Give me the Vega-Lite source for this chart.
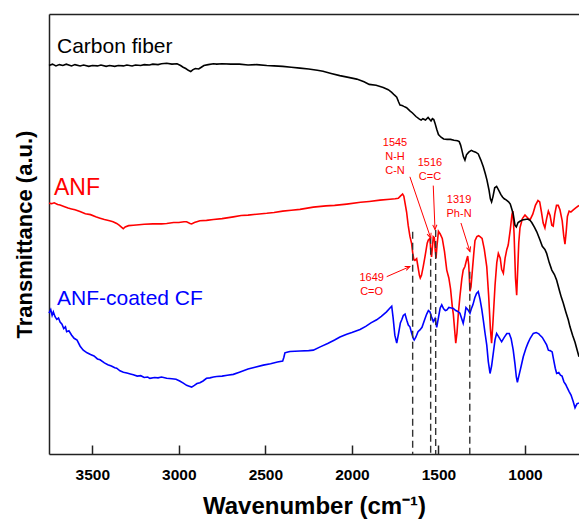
{
  "$schema": "https://vega.github.io/schema/vega-lite/v6.json",
  "width": 530,
  "height": 440,
  "autosize": "none",
  "padding": {"left": 49, "top": 14, "right": 0, "bottom": 68},
  "background": "white",
  "config": {
    "view": {"stroke": null},
    "font": "Liberation Sans",
    "axis": {"grid": false, "domainColor": "#222", "domainWidth": 1.5, "tickColor": "#222", "tickWidth": 1.5, "labelColor": "#000", "titleColor": "#000"}
  },
  "datasets": {
    "cf": [
      {"w":3750,"t":88.3},{"w":3730,"t":88.6},{"w":3710,"t":88.2},{"w":3690,"t":88.5},{"w":3670,"t":88.3},{"w":3650,"t":88.6},{"w":3620,"t":88.2},{"w":3600,"t":88.5},{"w":3570,"t":88.2},{"w":3550,"t":88.4},{"w":3520,"t":88.1},{"w":3500,"t":88.3},{"w":3470,"t":88.2},{"w":3450,"t":88.4},{"w":3420,"t":88.1},{"w":3400,"t":88.3},{"w":3370,"t":88.1},{"w":3350,"t":88.3},{"w":3320,"t":88.2},{"w":3300,"t":88.4},{"w":3270,"t":88.2},{"w":3250,"t":88.4},{"w":3220,"t":88.3},{"w":3200,"t":88.5},{"w":3170,"t":88.4},{"w":3150,"t":88.6},{"w":3120,"t":88.5},{"w":3100,"t":88.7},{"w":3070,"t":88.8},{"w":3040,"t":88.6},{"w":3010,"t":88.7},{"w":2990,"t":88.3},{"w":2975,"t":87.9},{"w":2960,"t":87.6},{"w":2945,"t":87.2},{"w":2931,"t":86.9},{"w":2920,"t":87.3},{"w":2905,"t":87.6},{"w":2885,"t":87.5},{"w":2870,"t":87.9},{"w":2855,"t":88.3},{"w":2830,"t":88.5},{"w":2800,"t":88.7},{"w":2781,"t":88.6},{"w":2750,"t":88.7},{"w":2700,"t":88.6},{"w":2650,"t":88.6},{"w":2600,"t":88.4},{"w":2550,"t":88.5},{"w":2492,"t":88.3},{"w":2450,"t":88.2},{"w":2400,"t":88.1},{"w":2350,"t":87.9},{"w":2300,"t":87.7},{"w":2250,"t":87.5},{"w":2200,"t":87.2},{"w":2167,"t":87.0},{"w":2120,"t":86.5},{"w":2070,"t":86.0},{"w":2020,"t":85.6},{"w":1972,"t":85.2},{"w":1930,"t":84.6},{"w":1900,"t":84.0},{"w":1860,"t":83.8},{"w":1819,"t":83.3},{"w":1790,"t":82.8},{"w":1770,"t":82.2},{"w":1755,"t":81.6},{"w":1741,"t":81.1},{"w":1730,"t":80.0},{"w":1722,"t":79.3},{"w":1710,"t":79.2},{"w":1700,"t":79.0},{"w":1684,"t":78.7},{"w":1665,"t":78.0},{"w":1650,"t":77.5},{"w":1630,"t":76.7},{"w":1610,"t":76.1},{"w":1600,"t":75.9},{"w":1590,"t":76.2},{"w":1575,"t":75.9},{"w":1560,"t":76.5},{"w":1550,"t":76.0},{"w":1543,"t":75.7},{"w":1535,"t":76.2},{"w":1527,"t":76.0},{"w":1520,"t":75.2},{"w":1510,"t":73.8},{"w":1500,"t":72.6},{"w":1485,"t":72.0},{"w":1470,"t":71.6},{"w":1450,"t":71.5},{"w":1430,"t":71.5},{"w":1410,"t":71.3},{"w":1390,"t":71.2},{"w":1380,"t":71.0},{"w":1372,"t":70.2},{"w":1366,"t":69.3},{"w":1356,"t":67.6},{"w":1347,"t":66.8},{"w":1338,"t":68.0},{"w":1325,"t":68.6},{"w":1310,"t":69.0},{"w":1300,"t":68.8},{"w":1285,"t":68.6},{"w":1270,"t":68.2},{"w":1255,"t":66.8},{"w":1241,"t":65.3},{"w":1230,"t":63.8},{"w":1220,"t":62.3},{"w":1208,"t":60.0},{"w":1200,"t":58.0},{"w":1193,"t":57.3},{"w":1185,"t":58.5},{"w":1175,"t":60.5},{"w":1164,"t":60.8},{"w":1150,"t":59.8},{"w":1140,"t":59.0},{"w":1130,"t":58.4},{"w":1120,"t":58.0},{"w":1107,"t":57.7},{"w":1095,"t":57.3},{"w":1085,"t":56.8},{"w":1075,"t":55.5},{"w":1068,"t":54.5},{"w":1058,"t":52.0},{"w":1050,"t":51.6},{"w":1040,"t":52.6},{"w":1029,"t":52.9},{"w":1015,"t":53.2},{"w":1000,"t":53.3},{"w":985,"t":53.4},{"w":971,"t":53.1},{"w":961,"t":52.6},{"w":945,"t":51.5},{"w":932,"t":50.5},{"w":915,"t":48.8},{"w":900,"t":47.2},{"w":885,"t":46.5},{"w":875,"t":45.6},{"w":860,"t":43.5},{"w":845,"t":41.8},{"w":830,"t":40.8},{"w":817,"t":39.5},{"w":800,"t":37.0},{"w":790,"t":35.6},{"w":779,"t":34.3},{"w":765,"t":32.4},{"w":750,"t":30.5},{"w":740,"t":28.9},{"w":725,"t":27.0},{"w":711,"t":25.4},{"w":700,"t":23.8},{"w":688,"t":22.1}
    ],
    "anf": [
      {"w":3750,"t":57.0},{"w":3735,"t":56.9},{"w":3720,"t":57.1},{"w":3700,"t":56.7},{"w":3686,"t":56.6},{"w":3660,"t":56.2},{"w":3640,"t":55.9},{"w":3620,"t":55.7},{"w":3600,"t":55.5},{"w":3571,"t":55.1},{"w":3540,"t":54.6},{"w":3510,"t":54.4},{"w":3480,"t":53.9},{"w":3455,"t":53.6},{"w":3430,"t":53.3},{"w":3400,"t":53.0},{"w":3380,"t":52.8},{"w":3359,"t":52.4},{"w":3345,"t":52.0},{"w":3330,"t":51.5},{"w":3321,"t":51.2},{"w":3310,"t":51.6},{"w":3290,"t":51.9},{"w":3263,"t":52.0},{"w":3230,"t":52.1},{"w":3200,"t":52.2},{"w":3150,"t":52.3},{"w":3100,"t":52.3},{"w":3070,"t":52.4},{"w":3030,"t":52.6},{"w":3000,"t":52.6},{"w":2970,"t":52.8},{"w":2955,"t":52.8},{"w":2935,"t":52.4},{"w":2926,"t":52.3},{"w":2910,"t":52.6},{"w":2878,"t":53.0},{"w":2840,"t":53.1},{"w":2800,"t":53.3},{"w":2750,"t":53.5},{"w":2685,"t":53.9},{"w":2640,"t":54.2},{"w":2600,"t":54.3},{"w":2550,"t":54.5},{"w":2492,"t":54.7},{"w":2450,"t":54.9},{"w":2400,"t":55.2},{"w":2350,"t":55.4},{"w":2300,"t":55.6},{"w":2223,"t":56.1},{"w":2150,"t":56.4},{"w":2100,"t":56.5},{"w":2030,"t":56.8},{"w":1950,"t":57.2},{"w":1900,"t":57.4},{"w":1838,"t":57.7},{"w":1780,"t":57.9},{"w":1750,"t":58.0},{"w":1732,"t":58.1},{"w":1720,"t":58.6},{"w":1707,"t":59.1},{"w":1700,"t":58.6},{"w":1693,"t":57.0},{"w":1684,"t":55.0},{"w":1675,"t":52.0},{"w":1665,"t":49.5},{"w":1655,"t":47.8},{"w":1648,"t":45.5},{"w":1642,"t":44.2},{"w":1636,"t":44.0},{"w":1626,"t":44.4},{"w":1618,"t":42.5},{"w":1610,"t":40.6},{"w":1605,"t":40.0},{"w":1598,"t":40.6},{"w":1588,"t":42.6},{"w":1578,"t":44.8},{"w":1565,"t":47.9},{"w":1559,"t":48.6},{"w":1549,"t":49.0},{"w":1545,"t":46.5},{"w":1540,"t":44.8},{"w":1535,"t":47.0},{"w":1530,"t":49.4},{"w":1524,"t":49.2},{"w":1519,"t":46.5},{"w":1514,"t":44.5},{"w":1508,"t":47.5},{"w":1500,"t":50.6},{"w":1490,"t":50.0},{"w":1478,"t":49.0},{"w":1465,"t":46.0},{"w":1452,"t":41.8},{"w":1440,"t":40.0},{"w":1430,"t":37.5},{"w":1420,"t":33.5},{"w":1414,"t":31.8},{"w":1405,"t":27.5},{"w":1400,"t":25.2},{"w":1393,"t":27.5},{"w":1385,"t":32.0},{"w":1376,"t":35.8},{"w":1365,"t":39.8},{"w":1357,"t":41.8},{"w":1347,"t":42.6},{"w":1337,"t":44.2},{"w":1331,"t":45.0},{"w":1325,"t":43.0},{"w":1318,"t":37.0},{"w":1312,"t":38.0},{"w":1304,"t":41.8},{"w":1296,"t":45.5},{"w":1289,"t":48.5},{"w":1278,"t":49.4},{"w":1268,"t":49.6},{"w":1260,"t":49.4},{"w":1248,"t":49.0},{"w":1235,"t":46.5},{"w":1221,"t":42.6},{"w":1210,"t":36.0},{"w":1200,"t":28.5},{"w":1193,"t":25.2},{"w":1185,"t":30.0},{"w":1173,"t":38.4},{"w":1163,"t":43.5},{"w":1154,"t":45.6},{"w":1143,"t":44.5},{"w":1135,"t":42.0},{"w":1125,"t":41.1},{"w":1115,"t":44.5},{"w":1105,"t":46.5},{"w":1097,"t":47.5},{"w":1085,"t":51.0},{"w":1075,"t":54.5},{"w":1070,"t":55.2},{"w":1063,"t":50.0},{"w":1055,"t":40.0},{"w":1048,"t":36.1},{"w":1042,"t":42.0},{"w":1036,"t":48.0},{"w":1029,"t":51.4},{"w":1015,"t":53.5},{"w":1000,"t":54.3},{"w":985,"t":53.7},{"w":971,"t":53.2},{"w":955,"t":54.5},{"w":940,"t":56.5},{"w":925,"t":57.6},{"w":915,"t":57.3},{"w":905,"t":55.0},{"w":895,"t":52.5},{"w":885,"t":51.4},{"w":875,"t":53.5},{"w":865,"t":55.2},{"w":855,"t":54.2},{"w":845,"t":52.0},{"w":837,"t":51.8},{"w":828,"t":54.5},{"w":818,"t":56.5},{"w":808,"t":56.5},{"w":798,"t":55.5},{"w":785,"t":53.0},{"w":776,"t":49.5},{"w":769,"t":47.7},{"w":762,"t":50.5},{"w":755,"t":54.0},{"w":745,"t":55.2},{"w":735,"t":55.0},{"w":721,"t":55.5},{"w":705,"t":56.0},{"w":688,"t":56.5}
    ],
    "coated": [
      {"w":3750,"t":32.0},{"w":3740,"t":32.8},{"w":3732,"t":31.5},{"w":3725,"t":32.3},{"w":3715,"t":31.2},{"w":3705,"t":30.6},{"w":3695,"t":30.9},{"w":3686,"t":30.0},{"w":3675,"t":29.5},{"w":3665,"t":28.5},{"w":3655,"t":28.9},{"w":3648,"t":27.8},{"w":3635,"t":28.0},{"w":3619,"t":27.0},{"w":3605,"t":26.3},{"w":3588,"t":25.9},{"w":3570,"t":24.5},{"w":3552,"t":23.6},{"w":3530,"t":23.0},{"w":3510,"t":22.6},{"w":3490,"t":22.3},{"w":3470,"t":21.6},{"w":3455,"t":21.4},{"w":3430,"t":20.7},{"w":3410,"t":20.3},{"w":3390,"t":20.0},{"w":3370,"t":19.6},{"w":3359,"t":19.5},{"w":3340,"t":18.9},{"w":3320,"t":18.6},{"w":3300,"t":18.4},{"w":3280,"t":18.2},{"w":3263,"t":18.0},{"w":3240,"t":17.7},{"w":3220,"t":17.8},{"w":3200,"t":17.4},{"w":3180,"t":17.5},{"w":3167,"t":17.2},{"w":3140,"t":17.4},{"w":3120,"t":17.3},{"w":3100,"t":17.5},{"w":3070,"t":17.2},{"w":3040,"t":17.1},{"w":3016,"t":17.0},{"w":2995,"t":16.6},{"w":2974,"t":16.1},{"w":2955,"t":15.6},{"w":2940,"t":15.4},{"w":2926,"t":15.2},{"w":2910,"t":15.6},{"w":2895,"t":16.0},{"w":2878,"t":16.2},{"w":2860,"t":16.6},{"w":2840,"t":17.2},{"w":2820,"t":17.3},{"w":2800,"t":17.5},{"w":2781,"t":17.6},{"w":2750,"t":17.7},{"w":2720,"t":17.9},{"w":2685,"t":18.1},{"w":2650,"t":18.6},{"w":2600,"t":19.3},{"w":2560,"t":19.7},{"w":2512,"t":20.2},{"w":2470,"t":20.5},{"w":2430,"t":20.9},{"w":2400,"t":21.1},{"w":2393,"t":22.0},{"w":2387,"t":23.0},{"w":2370,"t":23.2},{"w":2358,"t":23.3},{"w":2300,"t":23.4},{"w":2250,"t":23.5},{"w":2223,"t":23.6},{"w":2180,"t":24.4},{"w":2140,"t":25.1},{"w":2100,"t":25.9},{"w":2069,"t":26.6},{"w":2030,"t":27.2},{"w":2000,"t":27.6},{"w":1953,"t":28.3},{"w":1920,"t":29.0},{"w":1890,"t":29.8},{"w":1857,"t":30.5},{"w":1830,"t":31.3},{"w":1800,"t":32.3},{"w":1780,"t":33.2},{"w":1770,"t":33.6},{"w":1762,"t":31.0},{"w":1752,"t":27.0},{"w":1741,"t":25.2},{"w":1730,"t":27.5},{"w":1720,"t":29.8},{"w":1712,"t":30.5},{"w":1703,"t":31.5},{"w":1693,"t":31.8},{"w":1683,"t":30.4},{"w":1674,"t":29.3},{"w":1665,"t":28.9},{"w":1655,"t":27.5},{"w":1645,"t":26.2},{"w":1640,"t":25.9},{"w":1630,"t":26.6},{"w":1618,"t":27.8},{"w":1607,"t":28.2},{"w":1595,"t":28.8},{"w":1580,"t":30.5},{"w":1568,"t":31.8},{"w":1558,"t":32.6},{"w":1549,"t":32.3},{"w":1540,"t":31.2},{"w":1530,"t":30.1},{"w":1520,"t":30.8},{"w":1510,"t":28.8},{"w":1500,"t":31.0},{"w":1490,"t":33.2},{"w":1481,"t":33.9},{"w":1470,"t":33.0},{"w":1460,"t":32.6},{"w":1452,"t":32.7},{"w":1440,"t":33.3},{"w":1425,"t":33.2},{"w":1414,"t":33.1},{"w":1400,"t":32.6},{"w":1388,"t":32.4},{"w":1376,"t":32.0},{"w":1366,"t":30.8},{"w":1357,"t":29.7},{"w":1348,"t":31.5},{"w":1341,"t":33.3},{"w":1330,"t":32.8},{"w":1318,"t":32.0},{"w":1310,"t":33.0},{"w":1301,"t":33.9},{"w":1290,"t":35.5},{"w":1280,"t":36.5},{"w":1270,"t":36.9},{"w":1260,"t":35.2},{"w":1250,"t":33.0},{"w":1241,"t":30.5},{"w":1231,"t":27.5},{"w":1221,"t":24.8},{"w":1212,"t":21.0},{"w":1202,"t":18.3},{"w":1193,"t":20.0},{"w":1183,"t":23.0},{"w":1173,"t":26.0},{"w":1164,"t":27.4},{"w":1150,"t":26.5},{"w":1135,"t":25.5},{"w":1120,"t":26.5},{"w":1105,"t":27.4},{"w":1091,"t":27.4},{"w":1080,"t":26.2},{"w":1068,"t":23.6},{"w":1058,"t":20.5},{"w":1050,"t":17.5},{"w":1044,"t":16.3},{"w":1035,"t":17.8},{"w":1022,"t":20.0},{"w":1010,"t":22.1},{"w":995,"t":24.0},{"w":983,"t":25.2},{"w":970,"t":26.3},{"w":952,"t":27.4},{"w":935,"t":27.6},{"w":920,"t":27.3},{"w":913,"t":27.0},{"w":900,"t":26.5},{"w":885,"t":25.5},{"w":875,"t":24.8},{"w":865,"t":23.6},{"w":855,"t":23.5},{"w":843,"t":23.2},{"w":835,"t":21.5},{"w":825,"t":19.5},{"w":817,"t":18.3},{"w":805,"t":18.5},{"w":795,"t":17.9},{"w":786,"t":17.7},{"w":775,"t":16.4},{"w":765,"t":15.8},{"w":759,"t":15.3},{"w":745,"t":14.2},{"w":734,"t":13.4},{"w":722,"t":12.0},{"w":711,"t":10.5},{"w":700,"t":11.4},{"w":688,"t":11.6}
    ],
    "guides": [
      {"w":1649,"t":50.5},{"w":1545,"t":49.4},{"w":1516,"t":50.9},{"w":1319,"t":41.4}
    ],
    "arrows": [
      {"id":"1649","w":1799,"t":40.3,"w2":1665,"t2":42.6},
      {"id":"1545","w":1665,"t":63.0,"w2":1545,"t2":49.1},
      {"id":"1516","w":1530,"t":61.0,"w2":1520,"t2":51.0},
      {"id":"1319","w":1370,"t":52.5,"w2":1318,"t2":46.0}
    ],
    "notes": [
      {"label":"1545\nN-H\nC-N","w":1751,"t":69.9},
      {"label":"1516\nC=C","w":1549,"t":65.5},
      {"label":"1319\nPh-N","w":1381,"t":57.1},
      {"label":"1649\nC=O","w":1886,"t":39.4}
    ],
    "names": [
      {"name":"Carbon fiber","w":3704,"t":91.1},
      {"name":"ANF","w":3721,"t":58.9},
      {"name":"ANF-coated CF","w":3704,"t":33.9}
    ]
  },
  "layer": [
    {
      "data": {"name": "anf"},
      "mark": {"type": "line", "color": "#ff0000", "strokeWidth": 1.6},
      "encoding": {
        "x": {"field": "w", "type": "quantitative", "scale": {"domain": [3750, 688], "nice": false, "zero": false},
          "axis": {"orient": "bottom", "values": [3500, 3000, 2500, 2000, 1500, 1000], "format": "d", "tickSize": -9, "labelPadding": 22, "labelFontSize": 15.5, "labelFontWeight": "bold", "labelFlush": false, "title": "Wavenumber (cm⁻¹)", "titleFontSize": 24, "titleFontWeight": "bold", "titlePadding": 12}},
        "y": {"field": "t", "type": "quantitative", "scale": {"domain": [0, 100], "nice": false, "zero": false},
          "axis": {"title": "Transmittance (a.u.)", "labels": false, "ticks": false, "domain": true, "titleFontSize": 22, "titleFontWeight": "bold", "titlePadding": 13}}
      }
    },
    {
      "data": {"name": "coated"},
      "mark": {"type": "line", "color": "#0000ff", "strokeWidth": 1.6},
      "encoding": {
        "x": {"field": "w", "type": "quantitative", "axis": {"orient": "top", "labels": false, "ticks": false, "title": null, "domain": true}},
        "y": {"field": "t", "type": "quantitative"}
      }
    },
    {
      "data": {"name": "cf"},
      "mark": {"type": "line", "color": "#000000", "strokeWidth": 1.6},
      "encoding": {
        "x": {"field": "w", "type": "quantitative", "axis": null},
        "y": {"field": "t", "type": "quantitative"}
      }
    },
    {
      "data": {"name": "guides"},
      "mark": {"type": "rule", "color": "#333333", "strokeWidth": 1.4, "strokeDash": [7, 4]},
      "encoding": {
        "x": {"field": "w", "type": "quantitative", "axis": null},
        "y": {"field": "t", "type": "quantitative"},
        "y2": {"datum": 0}
      }
    },
    {
      "data": {"name": "arrows"},
      "mark": {"type": "rule", "color": "#ff0000", "strokeWidth": 1},
      "encoding": {
        "x": {"field": "w", "type": "quantitative", "axis": null},
        "y": {"field": "t", "type": "quantitative"},
        "x2": {"field": "w2"},
        "y2": {"field": "t2"}
      }
    },
    {
      "data": {"name": "arrows"},
      "transform": [{"filter": "datum.id == '1649'"}],
      "mark": {"type": "point", "shape": "M -0.7 1.6 L 0 0 L 0.7 1.6", "filled": false, "color": "#ff0000", "strokeWidth": 1, "size": 36, "angle": 67, "opacity": 1},
      "encoding": {"x": {"field": "w2", "type": "quantitative", "axis": null}, "y": {"field": "t2", "type": "quantitative"}}
    },
    {
      "data": {"name": "arrows"},
      "transform": [{"filter": "datum.id == '1545'"}],
      "mark": {"type": "point", "shape": "M -0.7 1.6 L 0 0 L 0.7 1.6", "filled": false, "color": "#ff0000", "strokeWidth": 1, "size": 36, "angle": 161, "opacity": 1},
      "encoding": {"x": {"field": "w2", "type": "quantitative", "axis": null}, "y": {"field": "t2", "type": "quantitative"}}
    },
    {
      "data": {"name": "arrows"},
      "transform": [{"filter": "datum.id == '1516'"}],
      "mark": {"type": "point", "shape": "M -0.7 1.6 L 0 0 L 0.7 1.6", "filled": false, "color": "#ff0000", "strokeWidth": 1, "size": 36, "angle": 178, "opacity": 1},
      "encoding": {"x": {"field": "w2", "type": "quantitative", "axis": null}, "y": {"field": "t2", "type": "quantitative"}}
    },
    {
      "data": {"name": "arrows"},
      "transform": [{"filter": "datum.id == '1319'"}],
      "mark": {"type": "point", "shape": "M -0.7 1.6 L 0 0 L 0.7 1.6", "filled": false, "color": "#ff0000", "strokeWidth": 1, "size": 36, "angle": 163, "opacity": 1},
      "encoding": {"x": {"field": "w2", "type": "quantitative", "axis": null}, "y": {"field": "t2", "type": "quantitative"}}
    },
    {
      "data": {"name": "notes"},
      "mark": {"type": "text", "color": "#ff0000", "fontSize": 11, "align": "center", "baseline": "alphabetic", "lineBreak": "\n", "lineHeight": 14},
      "encoding": {
        "x": {"field": "w", "type": "quantitative", "axis": null},
        "y": {"field": "t", "type": "quantitative"},
        "text": {"field": "label"}
      }
    },
    {
      "data": {"name": "names"},
      "transform": [{"filter": "datum.name != 'ANF'"}],
      "mark": {"type": "text", "fontSize": 21, "align": "left", "baseline": "alphabetic"},
      "encoding": {
        "x": {"field": "w", "type": "quantitative", "axis": null},
        "y": {"field": "t", "type": "quantitative"},
        "text": {"field": "name"},
        "color": {"field": "name", "type": "nominal", "scale": {"domain": ["Carbon fiber", "ANF", "ANF-coated CF"], "range": ["#000000", "#ff0000", "#0000ff"]}, "legend": null}
      }
    },
    {
      "data": {"name": "names"},
      "transform": [{"filter": "datum.name == 'ANF'"}],
      "mark": {"type": "text", "fontSize": 23, "align": "left", "baseline": "alphabetic"},
      "encoding": {
        "x": {"field": "w", "type": "quantitative", "axis": null},
        "y": {"field": "t", "type": "quantitative"},
        "text": {"field": "name"},
        "color": {"field": "name", "type": "nominal", "legend": null}
      }
    }
  ],
  "resolve": {"axis": {"x": "independent"}}
}
